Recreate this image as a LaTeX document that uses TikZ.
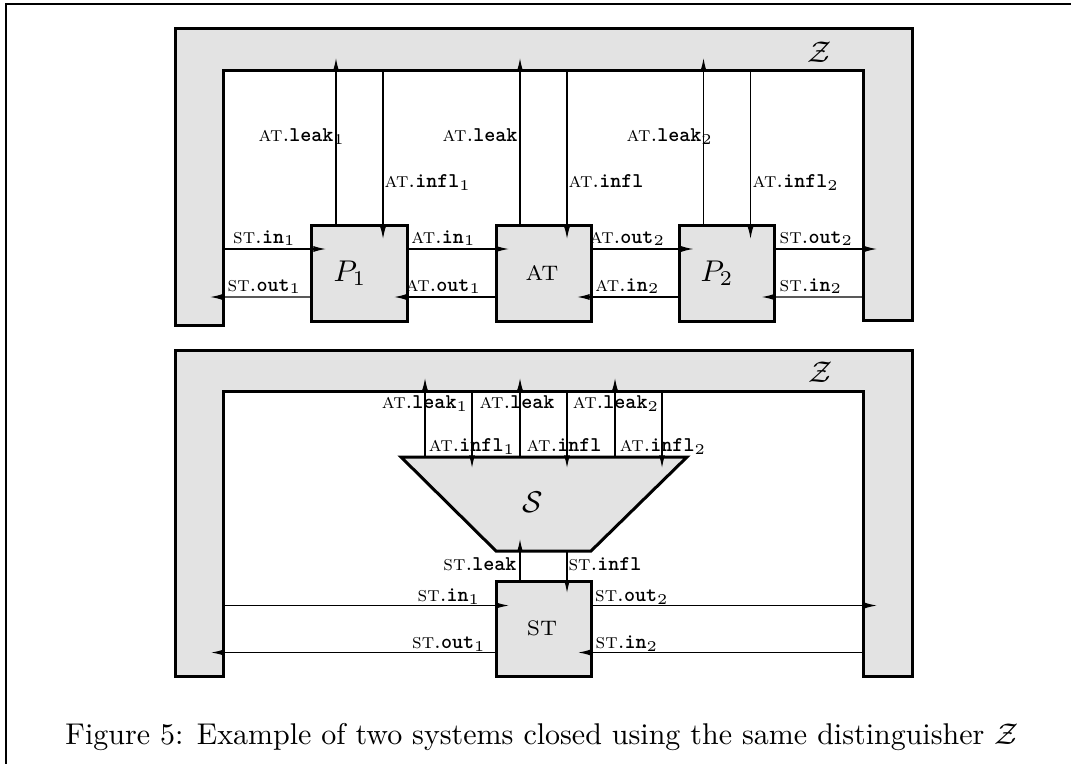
\documentclass[tikz,border=0pt]{standalone}
\usetikzlibrary{arrows.meta,calc}
\definecolor{zgray}{gray}{0.89}
\newcommand{\lb}[2]{\textsc{#1}.{\ttfamily\bfseries #2}}
\begin{document}
\begin{tikzpicture}[x=0.33333pt,y=-0.33333pt,
  zshape/.style={fill=zgray,draw=black,line width=1pt,line join=miter},
  box/.style={rectangle,draw=black,fill=zgray,line width=1pt,minimum width=31.67pt,minimum height=31.67pt,inner sep=0pt,outer sep=0pt},
  conn/.style={line width=0.4pt,-{Latex[length=4.2pt,width=2pt]}},
  lbl/.style={font=\fontsize{7}{8.5}\selectfont,inner sep=0pt},
  big/.style={font=\fontsize{10}{12}\selectfont,inner sep=0pt},
  mid/.style={font=\fontsize{7}{8.5}\selectfont,inner sep=0pt}
]
\useasboundingbox (0,0) rectangle (1071,764);
% outer frame
\draw[line width=0.7pt] (6,780) -- (6,4) -- (1090,4);

% ================= top system =================
\draw[zshape] (175,29) -- (912,29) -- (912,320) -- (863,320) -- (863,71) -- (223,71) -- (223,325) -- (175,325) -- cycle;
\node[big] (Z1) at (820,52) {$\mathcal{Z}$};
\coordinate (ZLin1) at (223,249);
\coordinate (ZLtip1) at (210,297);
\coordinate (ZRtip1) at (877,249);
\coordinate (ZRin1) at (863,297);

\node[box] (P1) at (359.5,273.5) {};
\node[box] (AT) at (543.5,273.5) {};
\node[box] (P2) at (727,273.5) {};
\node[big] (P1l) at (350,273) {$P_1$};
\node[mid] (ATl) at (542,273) {AT};
\node[big] (P2l) at (717,273) {$P_2$};

% horizontal
\draw[conn] (ZLin1) -- ($(P1.west)+(14,-24.5)$);
\draw[conn] ($(P1.west)+(0,23.5)$) -- (ZLtip1);
\draw[conn] ($(P1.east)+(0,-24.5)$) -- ($(AT.west)+(13,-24.5)$);
\draw[conn] ($(AT.west)+(0,23.5)$) -- ($(P1.east)+(-13,23.5)$);
\draw[conn] ($(AT.east)+(0,-24.5)$) -- ($(P2.west)+(14,-24.5)$);
\draw[conn] ($(P2.west)+(0,23.5)$) -- ($(AT.east)+(-14,23.5)$);
\draw[conn] ($(P2.east)+(0,-24.5)$) -- (ZRtip1);
\draw[conn] (ZRin1) -- ($(P2.east)+(-13,23.5)$);
% vertical
\foreach \b in {P1,AT,P2}{
  \draw[conn] ($(\b.north west)+(24,0)$) -- ($(\b.north west)+(24,-168)$);
  \draw[conn] ($(\b.north east)+(-24,-155)$) -- ($(\b.north east)+(-24,13)$);
}
% labels
\node[lbl,anchor=base] (t1) at (264.5,243) {\lb{st}{in}$_1$};
\node[lbl,anchor=base] (t2) at (264.5,291) {\lb{st}{out}$_1$};
\node[lbl,anchor=base] (t3) at (443.5,243) {\lb{at}{in}$_1$};
\node[lbl,anchor=base] (t4) at (443.5,291) {\lb{at}{out}$_1$};
\node[lbl,anchor=base] (t5) at (627.5,243) {\lb{at}{out}$_2$};
\node[lbl,anchor=base] (t6) at (627.5,291) {\lb{at}{in}$_2$};
\node[lbl,anchor=base] (t7) at (816.5,243) {\lb{st}{out}$_2$};
\node[lbl,anchor=base] (t8) at (811,291) {\lb{st}{in}$_2$};
\node[lbl,anchor=base east] (v1) at (334,142) {\lb{at}{leak}\rlap{$_1$}};
\node[lbl,anchor=base west] (v2) at (384,188) {\lb{at}{infl}$_1$};
\node[lbl,anchor=base east] (v3) at (518,142) {\lb{at}{leak}};
\node[lbl,anchor=base west] (v4) at (568,188) {\lb{at}{infl}};
\node[lbl,anchor=base east] (v5) at (702,142) {\lb{at}{leak}\rlap{$_2$}};
\node[lbl,anchor=base west] (v6) at (752,188) {\lb{at}{infl}$_2$};

% ================= bottom system =================
\draw[zshape] (175,350) -- (912,350) -- (912,676) -- (863,676) -- (863,391) -- (223,391) -- (223,676) -- (175,676) -- cycle;
\node[big] (Z2) at (820.5,372) {$\mathcal{Z}$};
\draw[zshape] (401,457) -- (687,457) -- (591,551) -- (496,551) -- cycle;
\node[big] (S) at (533,502) {$\mathcal{S}$};
\node[box] (ST) at (543.5,628.5) {};
\node[mid] (STl) at (542,628) {ST};

\foreach \x in {425,520,615}{
  \draw[conn] (\x,457) -- (\x,378);
}
\foreach \x in {472,567,662}{
  \draw[conn] (\x,391) -- (\x,468);
}
\draw[conn] ($(ST.north west)+(24,0)$) -- ($(ST.north west)+(24,-42)$);
\draw[conn] ($(ST.north east)+(-24,-30)$) -- ($(ST.north east)+(-24,12)$);
\coordinate (ZLin2) at (223,605.5);
\coordinate (ZLtip2) at (211,652.5);
\coordinate (ZRtip2) at (877,605.5);
\coordinate (ZRin2) at (863,652.5);
\draw[conn] (ZLin2) -- ($(ST.west)+(13,-23)$);
\draw[conn] ($(ST.west)+(0,24)$) -- (ZLtip2);
\draw[conn] ($(ST.east)+(0,-23)$) -- (ZRtip2);
\draw[conn] (ZRin2) -- ($(ST.east)+(-13,24)$);

\node[lbl,anchor=base] (b1) at (425,408) {\lb{at}{leak}$_1$};
\node[lbl,anchor=base] (b2) at (517,408) {\lb{at}{leak}};
\node[lbl,anchor=base] (b3) at (616,408) {\lb{at}{leak}$_2$};
\node[lbl,anchor=base] (b4) at (472,451) {\lb{at}{infl}$_1$};
\node[lbl,anchor=base] (b5) at (564,451) {\lb{at}{infl}};
\node[lbl,anchor=base] (b6) at (663,451) {\lb{at}{infl}$_2$};
\node[lbl,anchor=base east] (b7) at (517,570) {\lb{st}{leak}};
\node[lbl,anchor=base west] (b8) at (568,570) {\lb{st}{infl}};
\node[lbl,anchor=base] (b9) at (449,601) {\lb{st}{in}$_1$};
\node[lbl,anchor=base] (b10) at (449,648) {\lb{st}{out}$_1$};
\node[lbl,anchor=base] (b11) at (632,601) {\lb{st}{out}$_2$};
\node[lbl,anchor=base] (b12) at (627,648) {\lb{st}{in}$_2$};

% caption
\node[big,anchor=base] (cap) at (542,744) {Figure 5: Example of two systems closed using the same distinguisher $\mathcal{Z}$};
\end{tikzpicture}
\end{document}
